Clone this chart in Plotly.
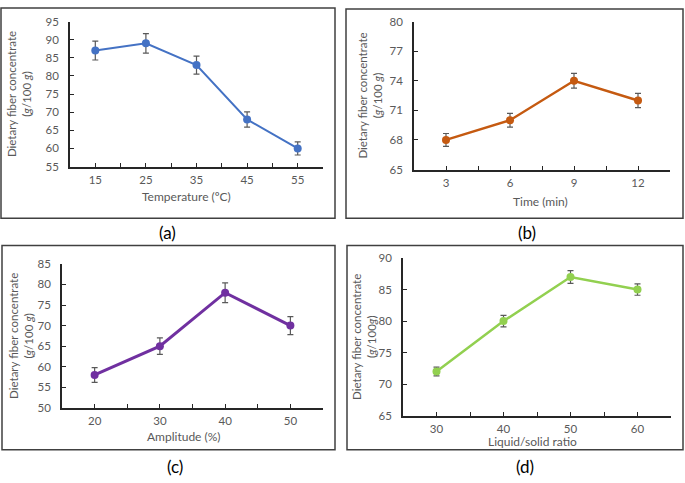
import plotly.graph_objects as go

# datos de cada panel
temp = [15, 25, 35, 45, 55]
fibra_temp = [87, 89, 83, 68, 60]
err_temp = [2.6, 2.7, 2.5, 2.1, 1.8]

tiempo = [3, 6, 9, 12]
fibra_tiempo = [68, 70, 74, 72]
err_tiempo = [0.65, 0.7, 0.75, 0.72]

amplitud = [20, 30, 40, 50]
fibra_amp = [58, 65, 78, 70]
err_amp = [1.8, 2.0, 2.4, 2.2]

ratio = [30, 40, 50, 60]
fibra_ratio = [72, 80, 87, 85]
err_ratio = [0.7, 0.9, 1.0, 0.9]

W, H = 685, 483
FONT = "Lato"
GRIS = "#595959"


def px(x):
    return x / W


def py(y):
    return 1 - y / H


fig = go.Figure()

paneles = [
    dict(x=temp, y=fibra_temp, e=err_temp, color="#4472C4", lw=2,
         area=(70, 323, 15, 164), xr=[10, 60], xdt=5, xlab=[15, 25, 35, 45, 55],
         yr=[55, 95], ydt=5,
         xt="Temperature (ºC)", xtp=(187, 195),
         yt="Dietary fiber concentrate<br>(<i>g</i>/100 <i>g</i>)", ytp=19,
         lab="(a)", labp=(167, 232), box=(1, 335, 1, 217)),
    dict(x=tiempo, y=fibra_tiempo, e=err_tiempo, color="#C55A11", lw=2.5,
         area=(414, 670, 15, 167), xr=[1.5, 13.5], xdt=1.5, xlab=[3, 6, 9, 12],
         yr=[65, 80], ydt=3,
         xt="Time (min)", xtp=(540, 200),
         yt="Dietary fiber concentrate<br>(<i>g</i>/100 <i>g</i>)", ytp=370,
         lab="(b)", labp=(527, 232), box=(346, 683, 2, 217)),
    dict(x=amplitud, y=fibra_amp, e=err_amp, color="#7030A0", lw=3,
         area=(62, 323, 264, 412), xr=[15, 55], xdt=5, xlab=[20, 30, 40, 50],
         yr=[50, 85], ydt=5,
         xt="Amplitude (%)", xtp=(184, 441),
         yt="Dietary fiber concentrate<br>(<i>g</i>/100 <i>g</i>)", ytp=21,
         lab="(c)", labp=(175, 472), box=(2, 335, 245, 455)),
    dict(x=ratio, y=fibra_ratio, e=err_ratio, color="#92D050", lw=2.5,
         area=(403, 671, 258, 420), xr=[25, 65], xdt=5, xlab=[30, 40, 50, 60],
         yr=[65, 90], ydt=5,
         xt="Liquid/solid ratio", xtp=(532, 447),
         yt="Dietary fiber concentrate<br>(<i>g</i>/100<i>g</i>)", ytp=364,
         lab="(d)", labp=(525, 472), box=(347, 683, 245, 455)),
]

for i, p in enumerate(paneles, start=1):
    xa = "x" if i == 1 else f"x{i}"
    ya = "y" if i == 1 else f"y{i}"
    fig.add_trace(go.Scatter(
        x=p["x"], y=p["y"], mode="lines+markers",
        line=dict(color=p["color"], width=p["lw"]),
        marker=dict(color=p["color"], size=8),
        error_y=dict(type="data", array=p["e"], color=GRIS, thickness=1.2, width=3),
        xaxis=xa, yaxis=ya, showlegend=False,
    ))
    x0, x1, y0, y1 = p["area"]
    # ticks cada medio intervalo, etiquetas solo en las categorias
    vals = []
    v = p["xr"][0]
    while v <= p["xr"][1] + 1e-9:
        vals.append(round(v, 2))
        v += p["xdt"]
    texts = [str(int(t)) if t in p["xlab"] else "" for t in vals]
    fig.update_layout(**{
        ("xaxis" if i == 1 else f"xaxis{i}"): dict(
            domain=[px(x0), px(x1)], anchor=ya, range=p["xr"],
            tickvals=vals, ticktext=texts, ticks="inside", ticklen=4,
            tickcolor="#262626", showline=True, linecolor="#262626", linewidth=1.5,
            showgrid=False, zeroline=False, ticklabelstandoff=2,
            tickfont=dict(family=FONT, size=11.5, color=GRIS),
        ),
        ("yaxis" if i == 1 else f"yaxis{i}"): dict(
            domain=[py(y1), py(y0)], anchor=xa, range=p["yr"], dtick=p["ydt"],
            tick0=p["yr"][0], ticks="inside", ticklen=4, tickcolor="#262626",
            showline=True, linecolor="#262626", linewidth=1.5,
            showgrid=False, zeroline=False, ticklabelstandoff=7,
            tickfont=dict(family=FONT, size=11.5, color=GRIS),
        ),
    })
    # titulos de ejes
    fig.add_annotation(x=px(p["xtp"][0]), y=py(p["xtp"][1]), xref="paper", yref="paper",
                       xanchor="center", yanchor="middle",
                       text=p["xt"], showarrow=False,
                       font=dict(family=FONT, size=12, color=GRIS))
    fig.add_annotation(x=px(p["ytp"]), y=py((y0 + y1) / 2), xref="paper", yref="paper",
                       xanchor="center", yanchor="middle",
                       text=p["yt"], textangle=-90, showarrow=False,
                       font=dict(family=FONT, size=11.5, color=GRIS))
    # etiqueta del panel
    fig.add_annotation(x=px(p["labp"][0]), y=py(p["labp"][1]), xref="paper", yref="paper",
                       xanchor="center", yanchor="middle",
                       text=p["lab"], showarrow=False,
                       font=dict(family=FONT, size=17, color="#000000"))
    # marco del grafico
    bx0, bx1, by0, by1 = p["box"]
    fig.add_shape(type="rect", xref="paper", yref="paper",
                  x0=px(bx0), x1=px(bx1), y0=py(by1), y1=py(by0),
                  line=dict(color="#404040", width=1.5))

fig.update_layout(
    width=W, height=H,
    margin=dict(l=0, r=0, t=0, b=0),
    paper_bgcolor="white", plot_bgcolor="white",
)

# sin margen del body para que la figura ocupe toda la ventana
fig.write_html("out.html", config={"displayModeBar": False},
               post_script="document.body.style.margin='0';"
               "document.documentElement.style.overflow='hidden';")
